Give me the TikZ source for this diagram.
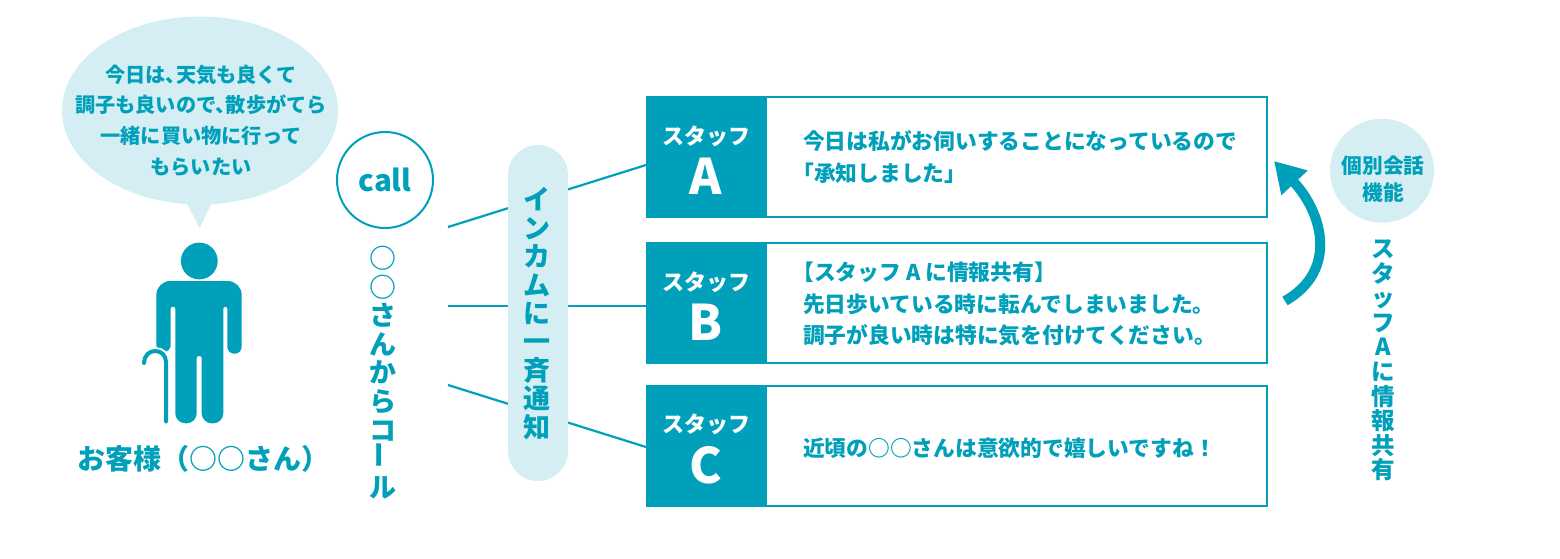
\documentclass[tikz,border=0pt]{standalone}
\usepackage{fontspec}
\setmainfont{Noto Sans CJK JP}
\usetikzlibrary{positioning,shapes.geometric,arrows.meta}
\definecolor{mainteal}{HTML}{00A0BA}
\definecolor{paleteal}{HTML}{D5EEF3}
\newcommand{\fsize}[2]{\fontsize{#1}{#2}\selectfont\bfseries}
\newcommand{\tatebar}{\rotatebox{90}{ー}}
\newcommand{\halfback}{\kern-0.5em}
\newcommand{\tabtext}[1]{\fsize{22}{26}\rule{0pt}{25pt}スタッフ\\[10pt]\fsize{49}{48}#1}
\tikzset{
  tabbox/.style={fill=mainteal, text=white, minimum width=120pt, minimum height=122pt, inner sep=0pt, outer sep=0pt, align=center},
  msgbox/.style={draw=mainteal, line width=2pt, fill=white, minimum width=501pt, minimum height=120pt, inner sep=0pt, outer sep=0pt},
  msgtext/.style={text=mainteal, anchor=west, align=left, inner sep=0pt, font=\fsize{21.75}{31.6}},
  pale/.style={fill=paleteal, inner sep=0pt, outer sep=0pt},
  tealtext/.style={text=mainteal, align=center, inner sep=0pt},
  wire/.style={draw=mainteal, line width=2.2pt}
}
\begin{document}
\begin{tikzpicture}[x=1pt, y=-1pt]
\useasboundingbox (0,0) rectangle (1560,558);

% Speech bubble
\node[pale, ellipse, minimum width=276pt, minimum height=188pt] (bubble) at (200,110.5) {};
\coordinate (tailL) at (185,200);
\coordinate (tailR) at (213,200);
\coordinate (tailT) at (199.7,228);
\fill[paleteal] (tailL) -- (tailT) -- (tailR) -- cycle;
\node[tealtext, font=\fsize{20.2}{30.7}] (bubbletext) at (201,120.5) {今日は、\halfback 天気も良くて\\調子も良いので、\halfback 散歩がてら\\一緒に買い物に行って\\もらいたい};

% Customer
\fill[mainteal] (199.3,261) circle (18.4);
\fill[mainteal] (199,281) [rounded corners=14pt] -- (241.7,281) [rounded corners=7pt] -- (241.7,353.7) -- (227.3,353.7) [rounded corners=2pt] -- (227.3,306.7) -- (223.3,306.7) [rounded corners=10pt] -- (223.3,423.3) -- (201.7,423.3) [rounded corners=2pt] -- (201.7,356) -- (196.7,356) [rounded corners=10pt] -- (196.7,423.3) -- (175.3,423.3) [rounded corners=2pt] -- (175.3,306.7) -- (170.7,306.7) [rounded corners=7pt] -- (170.7,352) -- (156.3,352) [rounded corners=14pt] -- (156.3,281) -- cycle;
% Cane
\draw[white, line width=8pt] (166,375) -- (166,362) .. controls (166,355) and (161,351) .. (155,351);
\draw[mainteal, line width=4pt, line cap=round] (166,421.5) -- (166,362) .. controls (166,355) and (161,351) .. (155,351) .. controls (149,351) and (144,356) .. (144,363);
\node[tealtext, font=\fsize{28}{30}] (customer) at (203,459) {お客様（○○さん）};

% Call circle
\node[draw=mainteal, line width=2pt, circle, minimum size=96pt, tealtext, font=\fsize{29.5}{34}] (call) at (385,180) {call};
\node[tealtext, font=\fsize{27}{28.6}] (calllabel) at (383,372.5) {○\\○\\さ\\ん\\か\\ら\\コ\\\tatebar\\ル};

% Staff boxes
\node[msgbox, anchor=west] (boxA) at (766,157) {};
\node[tabbox, left=0pt of boxA] (tabA) {\tabtext{A}};
\node[msgtext] (textA) at ([xshift=37pt]tabA.east) {今日は私がお伺いすることになっているので\\\halfback 「承知しました」};
\node[msgbox, anchor=west] (boxB) at (766,303) {};
\node[tabbox, left=0pt of boxB] (tabB) {\tabtext{B}};
\node[msgtext] (textB) at ([xshift=37pt, yshift=-1pt]tabB.east) {\halfback 【スタッフ A に情報共有】\\先日歩いている時に転んでしまいました。\\調子が良い時は特に気を付けてください。};
\node[msgbox, anchor=west] (boxC) at (766,446) {};
\node[tabbox, left=0pt of boxC] (tabC) {\tabtext{C}};
\node[msgtext] (textC) at ([xshift=37pt, yshift=-2pt]tabC.east) {近頃の○○さんは意欲的で嬉しいですね！};

% Wires behind the pill
\coordinate (startA) at (448,227);
\coordinate (startB) at (448,306);
\coordinate (startC) at (448,385);
\draw[wire] (startA) -- ([yshift=-8pt]tabA.west);
\draw[wire] (startB) -- ([yshift=-3pt]tabB.west);
\draw[wire] (startC) -- ([yshift=-1pt]tabC.west);

% Intercom pill
\node[pale, rounded corners=30pt, minimum width=60pt, minimum height=336pt] (pill) at (538,313) {};
\node[tealtext, font=\fsize{27}{28.4}] (pilltext) at (537,313.5) {イ\\ン\\カ\\ム\\に\\一\\斉\\通\\知};

% Share arrow
\coordinate (arrowS) at (1285,301);
\coordinate (arrowE) at (1274,161);
\draw[mainteal, line width=10pt, -{Triangle[length=30pt, width=34pt]}] (arrowS) .. controls (1339,270) and (1322,212) .. (arrowE);

% Share label
\node[pale, circle, minimum size=104pt] (share) at (1382,170.7) {};
\node[tealtext, font=\fsize{20.7}{27}] (sharetext) at (1383,179) {個別会話\\機能};
\node[tealtext, font=\fsize{23.5}{24.6}] (sharelabel) at (1383,360.5) {ス\\タ\\ッ\\フ\\A\\に\\情\\報\\共\\有};

\end{tikzpicture}
\end{document}
